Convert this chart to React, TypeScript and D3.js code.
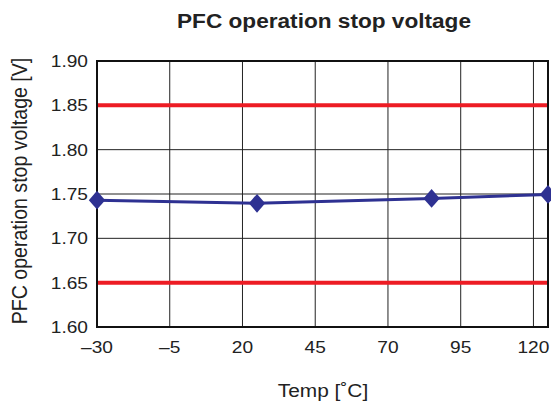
import { useEffect, useRef } from 'react';
import * as d3 from 'd3';

const temps = [-30, 25, 85, 125];
const voltages = [1.743, 1.7395, 1.745, 1.7495];
const limits = [1.65, 1.85];
const xTicks = [-30, -5, 20, 45, 70, 95, 120];
const yTicks = [1.6, 1.65, 1.7, 1.75, 1.8, 1.85, 1.9];

const W = 551;
const H = 407;
const margin = { top: 61, right: 3, bottom: 80, left: 97 };
// reference text looks stretched a bit horizontally
const SX = 1.16;

export default function App() {
  const svgRef = useRef<SVGSVGElement>(null);

  useEffect(() => {
    if (!svgRef.current) return;
    const svg = d3.select(svgRef.current);
    svg.selectAll('*').remove();

    const iw = W - margin.left - margin.right;
    const ih = H - margin.top - margin.bottom;
    const x = d3.scaleLinear().domain([-30, 125]).range([0, iw]);
    const y = d3.scaleLinear().domain([1.6, 1.9]).range([ih, 0]);
    const font = 'Liberation Sans, Arial, sans-serif';

    const g = svg.append('g').attr('transform', `translate(${margin.left},${margin.top})`);

    // grid
    g.selectAll('.vg').data(xTicks.slice(1)).enter().append('line')
      .attr('x1', d => x(d)).attr('x2', d => x(d))
      .attr('y1', 0).attr('y2', ih)
      .attr('stroke', '#222').attr('stroke-width', 1);
    g.selectAll('.hg').data(yTicks.slice(1)).enter().append('line')
      .attr('x1', 0).attr('x2', iw)
      .attr('y1', d => y(d)).attr('y2', d => y(d))
      .attr('stroke', '#222').attr('stroke-width', 1);

    // limit lines
    g.selectAll('.lim').data(limits).enter().append('line')
      .attr('x1', 0).attr('x2', iw)
      .attr('y1', d => y(d)).attr('y2', d => y(d))
      .attr('stroke', '#ed1c24').attr('stroke-width', 4);

    // frame
    g.append('rect').attr('width', iw).attr('height', ih)
      .attr('fill', 'none').attr('stroke', '#111').attr('stroke-width', 2);

    // data line
    const pts = temps.map((t, i) => [t, voltages[i]] as [number, number]);
    g.append('path').datum(pts)
      .attr('d', d3.line<[number, number]>().x(d => x(d[0])).y(d => y(d[1])))
      .attr('fill', 'none').attr('stroke', '#2e3192').attr('stroke-width', 3);

    const sym = d3.symbol().type(d3.symbolDiamond2).size(170);
    g.selectAll('.pt').data(pts).enter().append('path')
      .attr('d', sym)
      .attr('transform', d => `translate(${x(d[0])},${y(d[1])}) scale(1,1.15)`)
      .attr('fill', '#2e3192');

    // tick labels
    g.selectAll('.yl').data(yTicks).enter().append('text')
      .attr('transform', d => `translate(-9,${y(d)}) scale(${SX},1)`)
      .attr('dy', '0.36em')
      .attr('text-anchor', 'end')
      .attr('font-family', font).attr('font-size', 16.5).attr('fill', '#222')
      .text(d => d.toFixed(2));
    g.selectAll('.xl').data(xTicks).enter().append('text')
      .attr('transform', d => `translate(${x(d)},${ih + 26}) scale(${SX},1)`)
      .attr('text-anchor', 'middle')
      .attr('font-family', font).attr('font-size', 16.5).attr('fill', '#222')
      .text(d => (d < 0 ? '\u2013' + Math.abs(d) : String(d)));

    // titles
    svg.append('text')
      .attr('transform', `translate(324,28) scale(${SX},1)`)
      .attr('text-anchor', 'middle')
      .attr('font-family', font).attr('font-size', 19.5).attr('font-weight', 'bold').attr('fill', '#222')
      .text('PFC operation stop voltage');
    svg.append('text')
      .attr('transform', `translate(323,397) scale(${SX},1)`)
      .attr('text-anchor', 'middle')
      .attr('font-family', font).attr('font-size', 18).attr('fill', '#222')
      .text('Temp [\u02DAC]');
    svg.append('text')
      .attr('transform', `translate(27,191) scale(1.08,1) rotate(-90)`)
      .attr('text-anchor', 'middle')
      .attr('font-family', font).attr('font-size', 19.6).attr('fill', '#222')
      .text('PFC operation stop voltage [V]');
  }, []);

  return (
    <svg ref={svgRef} width={W} height={H}
      style={{ position: 'absolute', left: 0, top: 0, background: '#fff' }} />
  );
}
